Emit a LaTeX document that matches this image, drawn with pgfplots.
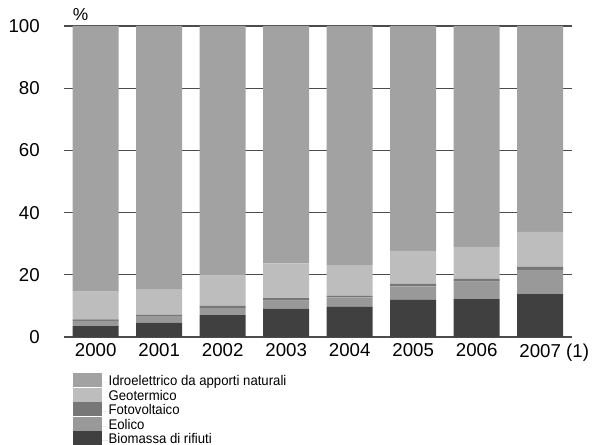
\documentclass[border=0pt]{standalone}
\usepackage{pgfplots}
\pgfplotsset{compat=1.18}
\usepackage{fontspec}
\setmainfont{Liberation Sans}
\newfontfamily\narrowfont[FakeStretch=0.94]{Liberation Sans}
\definecolor{cIdro}{HTML}{A2A2A2}
\definecolor{cGeo}{HTML}{BDBDBD}
\definecolor{cFot}{HTML}{777777}
\definecolor{cEol}{HTML}{999999}
\definecolor{cBio}{HTML}{404040}
\pgfplotsset{myleg/.style={legend image code/.code={\fill[##1] (0pt,-3.2pt) rectangle (21.75pt,7.45pt);\path (0pt,0pt) -- (27pt,0pt);}}}
\begin{document}
\begin{tikzpicture}
\useasboundingbox (-48pt,-81pt) rectangle (402.75pt,252.75pt);
\begin{axis}[
  at={(0,0)}, anchor=south west,
  scale only axis, width=381pt, height=233.25pt,
  ybar stacked, bar width=34.5pt,
  xmin=-0.5, xmax=7.5, ymin=0, ymax=100,
  axis x line*=bottom, axis y line*=left,
  axis line style={draw=none},
  tick style={draw=none},
  ytick={0,20,40,60,80,100},
  xtick={0,1,2,3,4,5,6,7},
  xticklabels={2000,2001,2002,2003,2004,2005,2006,{2007\rlap{ (1)}}},
  ymajorgrids,
  grid style={draw=black!70, line width=0.8pt},
  tick label style={font=\fontsize{14}{16}\selectfont},
  /pgf/number format/assume math mode=true,
  yticklabel style={anchor=east, inner sep=0pt, xshift=-18pt},
  xticklabel style={anchor=north, inner sep=0pt, yshift=-5pt},
  reverse legend,
  legend cell align=left,
  legend style={at={(0.017,-0.1158)}, anchor=north west, draw=none, fill=none,
    inner sep=0pt, outer sep=0pt, row sep=-1.9pt, column sep=0pt,
    font=\narrowfont\fontsize{10.5}{10.65}\selectfont,
    nodes={inner sep=0pt, text height=7.45pt, text depth=3.2pt}},
]
\addplot[fill=cBio, draw=none, myleg] coordinates {(0,3.5) (1,4.6) (2,7.0) (3,9.1) (4,9.7) (5,11.9) (6,12.2) (7,13.8)};
\addlegendentry{Biomassa di rifiuti}
\addplot[fill=cEol, draw=none, myleg] coordinates {(0,1.7) (1,2.1) (2,2.3) (3,2.6) (4,3.0) (5,4.4) (6,5.6) (7,7.7)};
\addlegendentry{Eolico}
\addplot[fill=cFot, draw=none, myleg] coordinates {(0,0.5) (1,0.5) (2,0.7) (3,0.8) (4,0.6) (5,0.8) (6,0.9) (7,1.1)};
\addlegendentry{Fotovoltaico}
\addplot[fill=cGeo, draw=none, myleg] coordinates {(0,8.9) (1,8.2) (2,9.7) (3,11.2) (4,9.8) (5,10.6) (6,10.3) (7,11.2)};
\addlegendentry{Geotermico}
\addplot[fill=cIdro, draw=none, myleg] coordinates {(0,85.4) (1,84.6) (2,80.3) (3,76.3) (4,76.9) (5,72.3) (6,71.0) (7,66.2)};
\addlegendentry{Idroelettrico da apporti naturali}
\end{axis}
\node[anchor=south west, inner sep=0pt, font=\fontsize{13}{14}\selectfont] at (6.5pt,237pt) {\%};
\end{tikzpicture}
\end{document}
